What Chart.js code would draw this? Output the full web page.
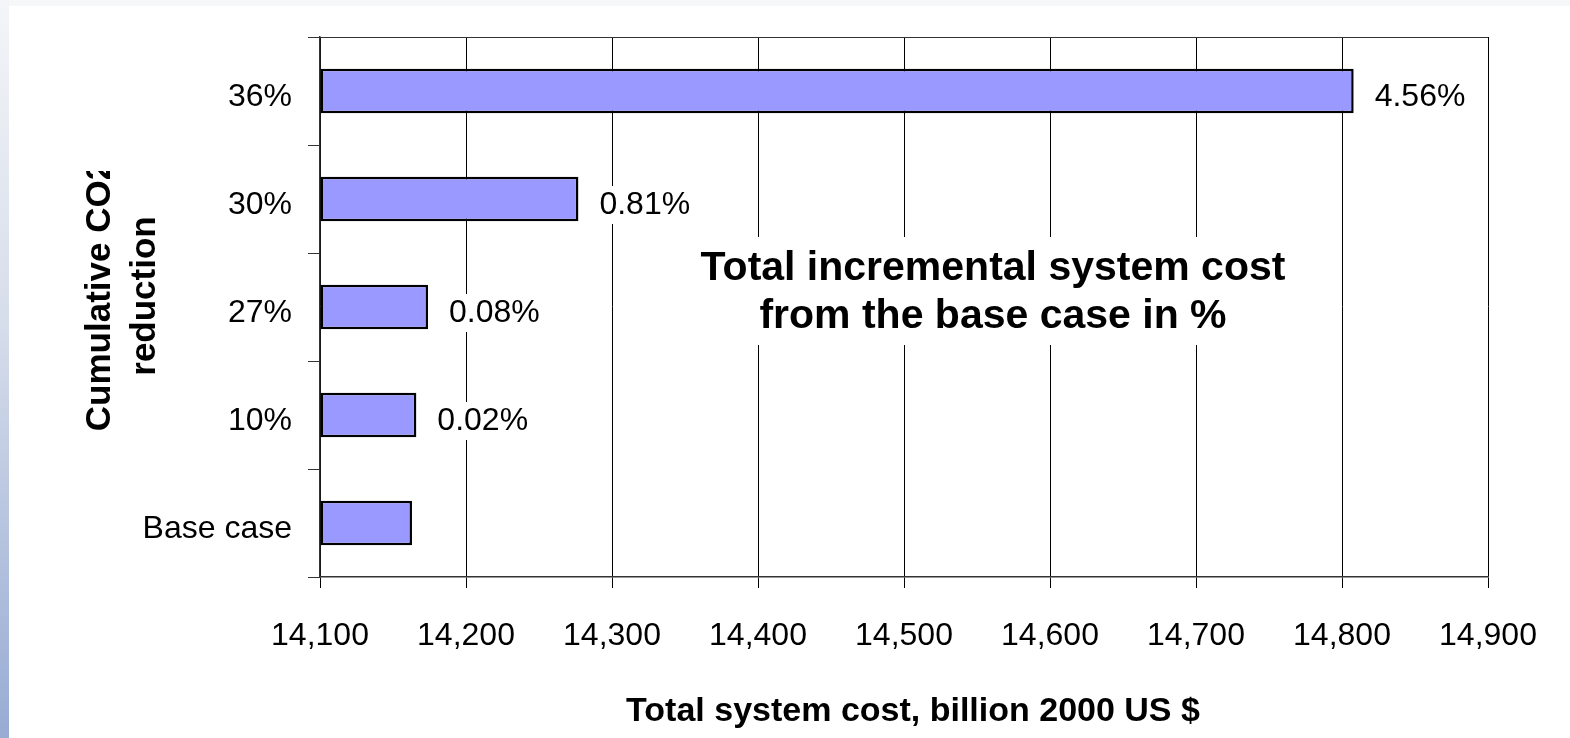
<!DOCTYPE html>
<html>
<head>
<meta charset="utf-8">
<script src="https://cdn.jsdelivr.net/npm/chart.js@4.4.1/dist/chart.umd.min.js"></script>
<style>
  html, body { margin: 0; padding: 0; background: #fff; }
  #fundo { position: relative; width: 1570px; height: 738px; overflow: hidden; background: #fff; }
  #faixaTopo { position: absolute; left: 0; top: 0; width: 1570px; height: 6px; background: #f6f7f9; }
  #faixaEsq { position: absolute; left: 0; top: 0; width: 9px; height: 738px;
    background: linear-gradient(to bottom, #f4f5f8 0%, #d5dcea 45%, #97abd3 100%); }
  canvas { position: absolute; left: 0; top: 0; }
</style>
</head>
<body>
<div id="fundo">
  <div id="faixaTopo"></div>
  <div id="faixaEsq"></div>
  <canvas id="graficoCusto" width="1570" height="738"></canvas>
</div>
<script>
// dados
const categorias = ['36%', '30%', '27%', '10%', 'Base case'];
const custoTotal = [14808, 14277, 14174, 14166, 14163];
const rotulosIncremento = ['4.56%', '0.81%', '0.08%', '0.02%', ''];
const valoresEixoX = [14100, 14200, 14300, 14400, 14500, 14600, 14700, 14800, 14900];

const tituloY = ['Cumulative CO2', 'reduction'];
const tituloX = 'Total system cost, billion 2000 US $';
const textoNota = ['Total incremental system cost', 'from the base case in %'];

const fonte = '"Liberation Sans", Arial, sans-serif';

// desenha rotulos, titulos e a caixa de texto
const pluginExtras = {
    id: 'extras',
    afterDatasetsDraw(chart) {
        const ctx = chart.ctx;
        const area = chart.chartArea;

        // linha superior da area do grafico
        ctx.save();
        ctx.strokeStyle = '#333';
        ctx.lineWidth = 1;
        ctx.beginPath();
        ctx.moveTo(area.left, area.top + 0.5);
        ctx.lineTo(area.right, area.top + 0.5);
        ctx.stroke();
        ctx.restore();

        // rotulos de incremento
        const meta = chart.getDatasetMeta(0);
        ctx.save();
        ctx.font = '32px ' + fonte;
        ctx.textBaseline = 'middle';
        ctx.textAlign = 'left';
        meta.data.forEach((barra, i) => {
            const txt = rotulosIncremento[i];
            if (!txt) return;
            const x = barra.x + 21;
            const y = barra.y + 6;
            const w = ctx.measureText(txt).width;
            ctx.fillStyle = '#fff';
            ctx.fillRect(x - 2, y - 19, w + 4, 38);
            ctx.fillStyle = '#000';
            ctx.fillText(txt, x, y);
        });
        ctx.restore();

        // caixa de texto no meio
        ctx.save();
        ctx.fillStyle = '#fff';
        ctx.fillRect(690, 237, 606, 108);
        ctx.font = 'bold 41px ' + fonte;
        ctx.fillStyle = '#000';
        ctx.textAlign = 'center';
        ctx.textBaseline = 'alphabetic';
        ctx.fillText(textoNota[0], 993, 280);
        ctx.fillText(textoNota[1], 993, 328);
        ctx.restore();
    },
    afterDraw(chart) {
        const ctx = chart.ctx;

        // titulo do eixo x
        ctx.save();
        ctx.font = 'bold 34px ' + fonte;
        ctx.fillStyle = '#000';
        ctx.textAlign = 'center';
        ctx.textBaseline = 'middle';
        ctx.fillText(tituloX, 913, 712);
        ctx.restore();

        // titulo do eixo y (cortado no topo como no original)
        ctx.save();
        ctx.beginPath();
        ctx.rect(0, 171, 300, 400);
        ctx.clip();
        ctx.font = 'bold 35px ' + fonte;
        ctx.fillStyle = '#000';
        ctx.textAlign = 'center';
        ctx.textBaseline = 'middle';
        ctx.translate(0, 296);
        ctx.rotate(-Math.PI / 2);
        ctx.fillText(tituloY[0], 0, 100);
        ctx.fillText(tituloY[1], 0, 145);
        ctx.restore();
    }
};

function montarGrafico() {
    const ctx = document.getElementById('graficoCusto').getContext('2d');

    new Chart(ctx, {
        type: 'bar',
        data: {
            labels: categorias,
            datasets: [{
                data: custoTotal,
                base: valoresEixoX[0],
                backgroundColor: '#9999ff',
                borderColor: '#000',
                borderWidth: 2.5,
                borderSkipped: false,
                barPercentage: 0.82,
                categoryPercentage: 0.5
            }]
        },
        options: {
            indexAxis: 'y',
            responsive: false,
            animation: false,
            layout: { padding: { top: 37, right: 82, left: 0, bottom: 0 } },
            plugins: {
                legend: { display: false },
                tooltip: { enabled: false }
            },
            scales: {
                x: {
                    type: 'linear',
                    min: valoresEixoX[0],
                    max: valoresEixoX[valoresEixoX.length - 1],
                    afterFit(eixo) { eixo.height = 161; },
                    afterBuildTicks(eixo) {
                        eixo.ticks = valoresEixoX.map(v => ({ value: v }));
                    },
                    ticks: {
                        color: '#000',
                        padding: 29,
                        maxRotation: 0,
                        font: { family: fonte, size: 32 },
                        callback: v => v.toLocaleString('en-US')
                    },
                    grid: { color: '#000', lineWidth: 1, tickLength: 11 },
                    border: { color: '#333', width: 1.5 }
                },
                y: {
                    afterFit(eixo) { eixo.width = 320; },
                    ticks: {
                        color: '#000',
                        padding: 16,
                        labelOffset: 6,
                        font: { family: fonte, size: 32 }
                    },
                    grid: { drawOnChartArea: false, tickLength: 12, color: '#333', offset: true },
                    border: { color: '#333', width: 1.5 }
                }
            }
        },
        plugins: [pluginExtras]
    });
}

window.onload = montarGrafico;
</script>
</body>
</html>
